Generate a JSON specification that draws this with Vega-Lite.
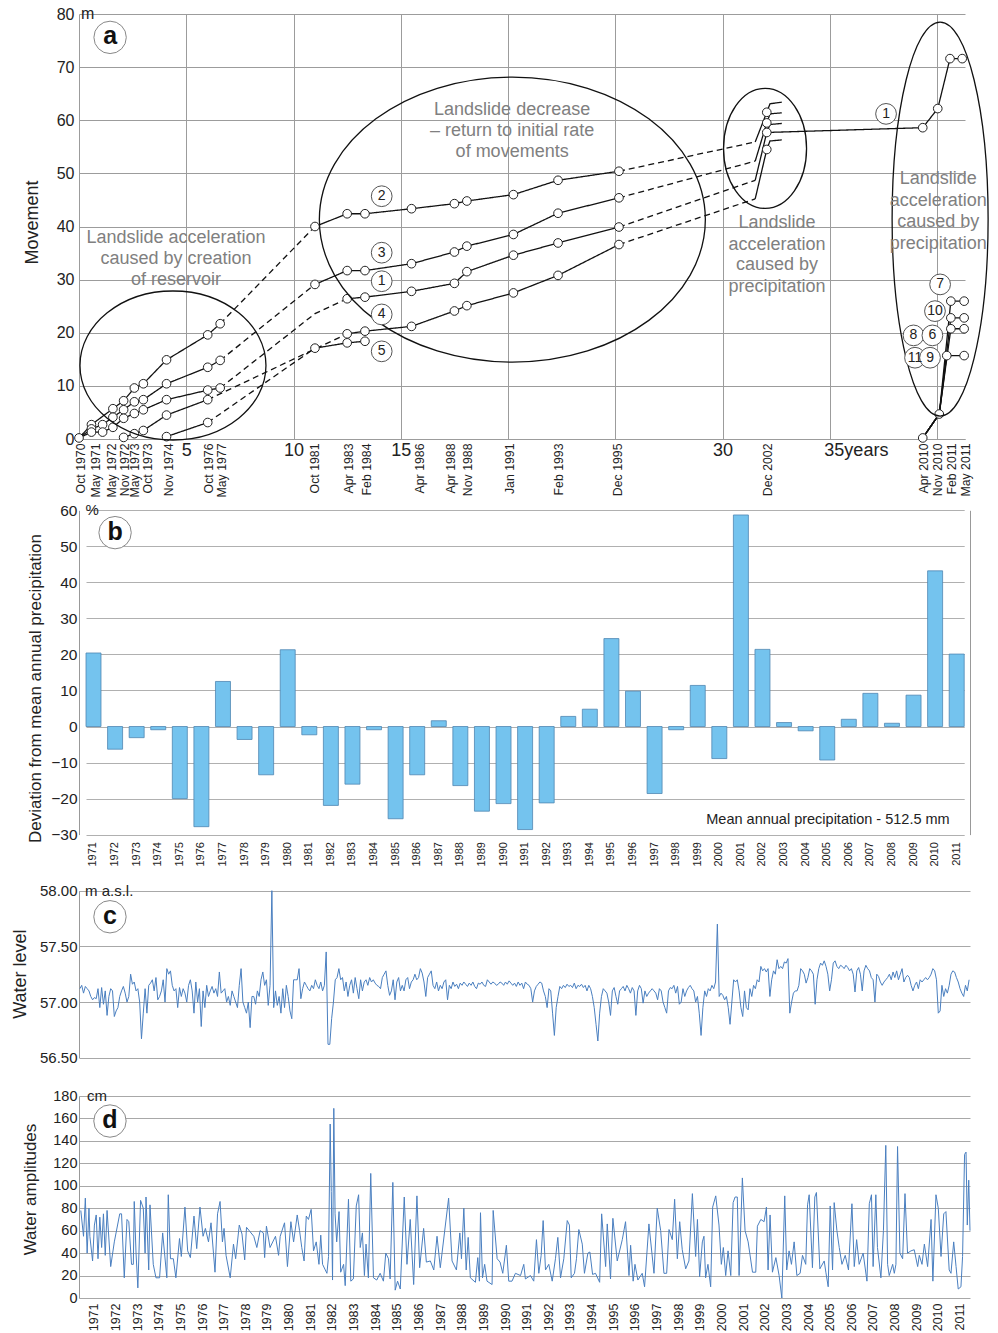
{
"$schema":"https://vega.github.io/schema/vega-lite/v6.json",
"padding":{"left":11,"top":6,"right":5,"bottom":2},
"bounds":"flush",
"spacing":38,
"config":{"font":"Liberation Sans","view":{"stroke":null},"axis":{"labelColor":"#222","titleColor":"#222","titleFontWeight":"normal","domainColor":"#999","gridColor":"#a6a6a6","ticks":false,"tickSize":0,"labelOverlap":false}},
"datasets":{
"lines":[
{"s":"A0","k":"solid","x":0,"y":0.2},{"s":"A0","k":"solid","x":0.58,"y":2.7},{"s":"A0","k":"solid","x":1.58,"y":5.7},{"s":"A0","k":"solid","x":2.08,"y":7.2},{"s":"A0","k":"solid","x":2.58,"y":9.6},{"s":"A0","k":"solid","x":3.0,"y":10.4},{"s":"A0","k":"solid","x":4.08,"y":14.9},{"s":"A0","k":"solid","x":6.0,"y":19.6},{"s":"A0","k":"solid","x":6.58,"y":21.7},
{"s":"A1","k":"dash","x":6.58,"y":21.7},{"s":"A1","k":"dash","x":11,"y":40.0},
{"s":"A2","k":"solid","x":11,"y":40.0},{"s":"A2","k":"solid","x":12.5,"y":42.4},{"s":"A2","k":"solid","x":13.33,"y":42.4},{"s":"A2","k":"solid","x":15.5,"y":43.35},{"s":"A2","k":"solid","x":17.5,"y":44.3},{"s":"A2","k":"solid","x":18.08,"y":44.8},{"s":"A2","k":"solid","x":20.25,"y":46.0},{"s":"A2","k":"solid","x":22.33,"y":48.7},{"s":"A2","k":"solid","x":25.17,"y":50.4},
{"s":"A3","k":"dash","x":25.17,"y":50.4},{"s":"A3","k":"dash","x":31.52,"y":55.9},
{"s":"A4","k":"solid","x":31.52,"y":55.9},{"s":"A4","k":"solid","x":32.06,"y":61.5},{"s":"A4","k":"solid","x":32.21,"y":63.1},{"s":"A4","k":"solid","x":32.76,"y":63.4},
{"s":"B0","k":"solid","x":0,"y":0.2},{"s":"B0","k":"solid","x":0.58,"y":1.9},{"s":"B0","k":"solid","x":1.1,"y":2.7},{"s":"B0","k":"solid","x":1.58,"y":4.1},{"s":"B0","k":"solid","x":2.08,"y":5.5},{"s":"B0","k":"solid","x":2.58,"y":7.0},{"s":"B0","k":"solid","x":3.0,"y":7.4},{"s":"B0","k":"solid","x":4.08,"y":10.4},{"s":"B0","k":"solid","x":6.0,"y":13.5},{"s":"B0","k":"solid","x":6.58,"y":14.8},
{"s":"B1","k":"dash","x":6.58,"y":14.8},{"s":"B1","k":"dash","x":11,"y":29.1},
{"s":"B2","k":"solid","x":11,"y":29.1},{"s":"B2","k":"solid","x":12.5,"y":31.7},{"s":"B2","k":"solid","x":13.33,"y":31.7},{"s":"B2","k":"solid","x":15.5,"y":33.0},{"s":"B2","k":"solid","x":17.5,"y":35.2},{"s":"B2","k":"solid","x":18.08,"y":36.3},{"s":"B2","k":"solid","x":20.25,"y":38.5},{"s":"B2","k":"solid","x":22.33,"y":42.5},{"s":"B2","k":"solid","x":25.17,"y":45.4},
{"s":"B3","k":"dash","x":25.17,"y":45.4},{"s":"B3","k":"dash","x":31.52,"y":52.3},
{"s":"B4","k":"solid","x":31.52,"y":52.3},{"s":"B4","k":"solid","x":32.06,"y":59.5},{"s":"B4","k":"solid","x":32.21,"y":61.2},{"s":"B4","k":"solid","x":32.76,"y":61.4},
{"s":"C0","k":"solid","x":0,"y":0.2},{"s":"C0","k":"solid","x":0.58,"y":1.3},{"s":"C0","k":"solid","x":1.1,"y":1.3},{"s":"C0","k":"solid","x":1.58,"y":2.2},{"s":"C0","k":"solid","x":2.08,"y":3.9},{"s":"C0","k":"solid","x":2.58,"y":4.8},{"s":"C0","k":"solid","x":3.0,"y":5.5},{"s":"C0","k":"solid","x":4.08,"y":7.4},{"s":"C0","k":"solid","x":6.0,"y":9.2},{"s":"C0","k":"solid","x":6.58,"y":9.6},
{"s":"C1","k":"dash","x":6.58,"y":9.6},{"s":"C1","k":"dash","x":11,"y":23.6},{"s":"C1","k":"dash","x":12.5,"y":26.4},
{"s":"C2","k":"solid","x":12.5,"y":26.4},{"s":"C2","k":"solid","x":13.33,"y":26.7},{"s":"C2","k":"solid","x":15.5,"y":27.8},{"s":"C2","k":"solid","x":17.5,"y":29.3},{"s":"C2","k":"solid","x":18.08,"y":31.5},{"s":"C2","k":"solid","x":20.25,"y":34.6},{"s":"C2","k":"solid","x":22.33,"y":36.9},{"s":"C2","k":"solid","x":25.17,"y":39.9},
{"s":"C3","k":"dash","x":25.17,"y":39.9},{"s":"C3","k":"dash","x":31.52,"y":48.7},
{"s":"C4","k":"solid","x":31.52,"y":48.7},{"s":"C4","k":"solid","x":32.06,"y":57.7},{"s":"C4","k":"solid","x":32.21,"y":59.2},{"s":"C4","k":"solid","x":32.76,"y":59.4},
{"s":"C5","k":"solid","x":32.06,"y":57.7},{"s":"C5","k":"solid","x":39.33,"y":58.6},{"s":"C5","k":"solid","x":40.03,"y":62.2},{"s":"C5","k":"solid","x":40.6,"y":71.6},{"s":"C5","k":"solid","x":41.17,"y":71.6},
{"s":"D0","k":"solid","x":2.08,"y":0.3},{"s":"D0","k":"solid","x":2.58,"y":1.0},{"s":"D0","k":"solid","x":3.0,"y":1.6},{"s":"D0","k":"solid","x":4.08,"y":4.5},{"s":"D0","k":"solid","x":6.0,"y":7.4},
{"s":"D1","k":"dash","x":6.0,"y":7.4},{"s":"D1","k":"dash","x":12.5,"y":19.8},
{"s":"D2","k":"solid","x":12.5,"y":19.8},{"s":"D2","k":"solid","x":13.33,"y":20.3},{"s":"D2","k":"solid","x":15.5,"y":21.2},{"s":"D2","k":"solid","x":17.5,"y":24.1},{"s":"D2","k":"solid","x":18.08,"y":25.1},{"s":"D2","k":"solid","x":20.25,"y":27.5},{"s":"D2","k":"solid","x":22.33,"y":30.8},{"s":"D2","k":"solid","x":25.17,"y":36.6},
{"s":"D3","k":"dash","x":25.17,"y":36.6},{"s":"D3","k":"dash","x":31.52,"y":45.2},
{"s":"D4","k":"solid","x":31.52,"y":45.2},{"s":"D4","k":"solid","x":32.06,"y":54.5},{"s":"D4","k":"solid","x":32.21,"y":56.1},{"s":"D4","k":"solid","x":32.76,"y":56.3},
{"s":"E0","k":"solid","x":4.08,"y":0.45},{"s":"E0","k":"solid","x":6.0,"y":3.1},
{"s":"E1","k":"dash","x":6.0,"y":3.1},{"s":"E1","k":"dash","x":11,"y":17.1},
{"s":"E2","k":"solid","x":11,"y":17.1},{"s":"E2","k":"solid","x":12.5,"y":18.1},{"s":"E2","k":"solid","x":13.33,"y":18.4},
{"s":"R1","k":"solid","x":39.33,"y":0.2},{"s":"R1","k":"solid","x":40.1,"y":4.7},{"s":"R1","k":"solid","x":40.64,"y":25.95},{"s":"R1","k":"solid","x":41.26,"y":25.95},
{"s":"R2","k":"solid","x":39.33,"y":0.2},{"s":"R2","k":"solid","x":40.1,"y":4.7},{"s":"R2","k":"solid","x":40.64,"y":22.8},{"s":"R2","k":"solid","x":41.26,"y":22.8},
{"s":"R3","k":"solid","x":39.33,"y":0.2},{"s":"R3","k":"solid","x":40.1,"y":4.7},{"s":"R3","k":"solid","x":40.64,"y":20.75},{"s":"R3","k":"solid","x":41.26,"y":20.75},
{"s":"R4","k":"solid","x":39.33,"y":0.2},{"s":"R4","k":"solid","x":40.1,"y":4.7},{"s":"R4","k":"solid","x":40.45,"y":15.7},{"s":"R4","k":"solid","x":41.26,"y":15.7}
],
"pts":[
{"x":0,"y":0.2},{"x":0.58,"y":2.7},{"x":1.58,"y":5.7},{"x":2.08,"y":7.2},{"x":2.58,"y":9.6},{"x":3.0,"y":10.4},{"x":4.08,"y":14.9},{"x":6.0,"y":19.6},{"x":6.58,"y":21.7},
{"x":0.58,"y":1.9},{"x":1.1,"y":2.7},{"x":1.58,"y":4.1},{"x":2.08,"y":5.5},{"x":2.58,"y":7.0},{"x":3.0,"y":7.4},{"x":4.08,"y":10.4},{"x":6.0,"y":13.5},{"x":6.58,"y":14.8},
{"x":0.58,"y":1.3},{"x":1.1,"y":1.3},{"x":1.58,"y":2.2},{"x":2.08,"y":3.9},{"x":2.58,"y":4.8},{"x":3.0,"y":5.5},{"x":4.08,"y":7.4},{"x":6.0,"y":9.2},{"x":6.58,"y":9.6},
{"x":2.08,"y":0.3},{"x":2.58,"y":1.0},{"x":3.0,"y":1.6},{"x":4.08,"y":4.5},{"x":6.0,"y":7.4},
{"x":4.08,"y":0.45},{"x":6.0,"y":3.1},
{"x":11,"y":40.0},{"x":11,"y":29.1},{"x":11,"y":17.1},
{"x":12.5,"y":42.4},{"x":13.33,"y":42.4},{"x":15.5,"y":43.35},{"x":17.5,"y":44.3},{"x":18.08,"y":44.8},{"x":20.25,"y":46.0},{"x":22.33,"y":48.7},{"x":25.17,"y":50.4},
{"x":12.5,"y":31.7},{"x":13.33,"y":31.7},{"x":15.5,"y":33.0},{"x":17.5,"y":35.2},{"x":18.08,"y":36.3},{"x":20.25,"y":38.5},{"x":22.33,"y":42.5},{"x":25.17,"y":45.4},
{"x":12.5,"y":26.4},{"x":13.33,"y":26.7},{"x":15.5,"y":27.8},{"x":17.5,"y":29.3},{"x":18.08,"y":31.5},{"x":20.25,"y":34.6},{"x":22.33,"y":36.9},{"x":25.17,"y":39.9},
{"x":12.5,"y":19.8},{"x":13.33,"y":20.3},{"x":15.5,"y":21.2},{"x":17.5,"y":24.1},{"x":18.08,"y":25.1},{"x":20.25,"y":27.5},{"x":22.33,"y":30.8},{"x":25.17,"y":36.6},
{"x":12.5,"y":18.1},{"x":13.33,"y":18.4},
{"x":32.06,"y":61.5},{"x":32.06,"y":59.5},{"x":32.06,"y":57.7},{"x":32.06,"y":54.5},
{"x":39.33,"y":58.6},{"x":40.03,"y":62.2},{"x":40.6,"y":71.6},{"x":41.17,"y":71.6},
{"x":39.33,"y":0.2},{"x":40.1,"y":4.7},{"x":40.45,"y":15.7},{"x":40.64,"y":20.75},{"x":40.64,"y":22.8},{"x":40.64,"y":25.95},{"x":41.26,"y":15.7},{"x":41.26,"y":20.75},{"x":41.26,"y":22.8},{"x":41.26,"y":25.95}
],
"ell":[{"e":"e1","x":4.38,"y":13.84},{"e":"e2","x":20.2,"y":41.3},{"e":"e3","x":31.98,"y":54.7},{"e":"e4","x":40.14,"y":41.4}],
"notes":[
{"t":"Landslide acceleration","x":4.52,"y":37.9},{"t":"caused by creation","x":4.52,"y":33.8},{"t":"of reservoir","x":4.52,"y":29.85},
{"t":"Landslide decrease","x":20.19,"y":61.9},{"t":"– return to initial rate","x":20.19,"y":57.9},{"t":"of movements","x":20.19,"y":53.95},
{"t":"Landslide","x":32.54,"y":40.7},{"t":"acceleration","x":32.54,"y":36.6},{"t":"caused by","x":32.54,"y":32.7},{"t":"precipitation","x":32.54,"y":28.7},
{"t":"Landslide","x":40.05,"y":48.9},{"t":"acceleration","x":40.05,"y":44.8},{"t":"caused by","x":40.05,"y":40.8},{"t":"precipitation","x":40.05,"y":36.8}
],
"nums":[
{"n":"2","x":14.11,"y":45.7},{"n":"3","x":14.11,"y":35.07},{"n":"1","x":14.11,"y":29.7},{"n":"4","x":14.11,"y":23.45},{"n":"5","x":14.11,"y":16.5},
{"n":"1","x":37.62,"y":61.2},{"n":"7","x":40.14,"y":29.1},{"n":"10","x":39.9,"y":24.07},{"n":"8","x":38.9,"y":19.5},{"n":"6","x":39.78,"y":19.5},{"n":"11","x":38.97,"y":15.3},{"n":"9","x":39.67,"y":15.3}
],
"precip":[
{"year":"1971","v":20.4},{"year":"1972","v":-6.3},{"year":"1973","v":-3.1},{"year":"1974","v":-0.9},{"year":"1975","v":-20.0},{"year":"1976","v":-27.8},{"year":"1977","v":12.5},{"year":"1978","v":-3.6},{"year":"1979","v":-13.4},{"year":"1980","v":21.3},{"year":"1981","v":-2.3},{"year":"1982","v":-21.9},{"year":"1983","v":-16.0},{"year":"1984","v":-0.9},{"year":"1985","v":-25.6},{"year":"1986","v":-13.4},{"year":"1987","v":1.6},{"year":"1988","v":-16.4},{"year":"1989","v":-23.5},{"year":"1990","v":-21.4},{"year":"1991","v":-28.6},{"year":"1992","v":-21.2},{"year":"1993","v":2.8},{"year":"1994","v":4.8},{"year":"1995","v":24.4},{"year":"1996","v":9.8},{"year":"1997","v":-18.6},{"year":"1998","v":-0.9},{"year":"1999","v":11.4},{"year":"2000","v":-8.9},{"year":"2001","v":58.7},{"year":"2002","v":21.4},{"year":"2003","v":1.1},{"year":"2004","v":-1.2},{"year":"2005","v":-9.3},{"year":"2006","v":2.0},{"year":"2007","v":9.2},{"year":"2008","v":0.9},{"year":"2009","v":8.7},{"year":"2010","v":43.2},{"year":"2011","v":20.1}
],
"wl":[
{"m":0,"v":57.12},{"m":1,"v":57.15},{"m":2,"v":57.08},{"m":3,"v":57.14},{"m":4,"v":57.12},{"m":5,"v":57.1},{"m":6,"v":57.05},{"m":7,"v":57.02},{"m":8,"v":57.04},{"m":9,"v":57.03},{"m":10,"v":57.12},{"m":11,"v":56.95},
{"m":12,"v":57.13},{"m":13,"v":56.98},{"m":14,"v":57.1},{"m":15,"v":56.88},{"m":16,"v":57.05},{"m":17,"v":57.12},{"m":18,"v":57.1},{"m":19,"v":56.87},{"m":20,"v":56.92},{"m":21,"v":56.95},{"m":22,"v":57.05},{"m":23,"v":57.1},
{"m":24,"v":57.14},{"m":25,"v":57.08},{"m":26,"v":57.0},{"m":27,"v":57.05},{"m":28,"v":57.25},{"m":29,"v":57.16},{"m":30,"v":57.18},{"m":31,"v":57.1},{"m":32,"v":57.12},{"m":33,"v":57.0},{"m":34,"v":56.67},{"m":35,"v":56.9},
{"m":36,"v":57.12},{"m":37,"v":56.9},{"m":38,"v":57.15},{"m":39,"v":57.17},{"m":40,"v":57.2},{"m":41,"v":57.1},{"m":42,"v":57.22},{"m":43,"v":57.02},{"m":44,"v":57.05},{"m":45,"v":57.1},{"m":46,"v":57.2},{"m":47,"v":57.0},
{"m":48,"v":57.3},{"m":49,"v":57.25},{"m":50,"v":57.28},{"m":51,"v":57.15},{"m":52,"v":57.1},{"m":53,"v":57.12},{"m":54,"v":56.95},{"m":55,"v":57.13},{"m":56,"v":57.05},{"m":57,"v":57.12},{"m":58,"v":57.08},{"m":59,"v":57.0},
{"m":60,"v":57.15},{"m":61,"v":57.2},{"m":62,"v":57.1},{"m":63,"v":56.9},{"m":64,"v":57.18},{"m":65,"v":57.0},{"m":66,"v":57.12},{"m":67,"v":56.78},{"m":68,"v":57.1},{"m":69,"v":56.95},{"m":70,"v":57.15},{"m":71,"v":57.05},
{"m":72,"v":57.1},{"m":73,"v":57.14},{"m":74,"v":57.08},{"m":75,"v":57.12},{"m":76,"v":57.05},{"m":77,"v":57.27},{"m":78,"v":57.08},{"m":79,"v":57.1},{"m":80,"v":57.12},{"m":81,"v":57.0},{"m":82,"v":57.05},{"m":83,"v":56.97},
{"m":84,"v":57.1},{"m":85,"v":57.05},{"m":86,"v":57.0},{"m":87,"v":56.95},{"m":88,"v":57.15},{"m":89,"v":57.3},{"m":90,"v":57.0},{"m":91,"v":56.95},{"m":92,"v":56.9},{"m":93,"v":57.0},{"m":94,"v":56.77},{"m":95,"v":57.05},
{"m":96,"v":57.05},{"m":97,"v":56.98},{"m":98,"v":57.1},{"m":99,"v":57.05},{"m":100,"v":57.2},{"m":101,"v":57.27},{"m":102,"v":57.15},{"m":103,"v":57.2},{"m":104,"v":56.97},{"m":105,"v":57.15},{"m":106,"v":58.0},{"m":107,"v":56.95},
{"m":108,"v":57.1},{"m":109,"v":56.97},{"m":110,"v":57.05},{"m":111,"v":56.9},{"m":112,"v":57.12},{"m":113,"v":56.95},{"m":114,"v":57.15},{"m":115,"v":57.05},{"m":116,"v":56.92},{"m":117,"v":56.85},{"m":118,"v":57.2},{"m":119,"v":57.2},
{"m":120,"v":57.2},{"m":121,"v":57.3},{"m":122,"v":57.03},{"m":123,"v":57.12},{"m":124,"v":57.18},{"m":125,"v":57.15},{"m":126,"v":57.12},{"m":127,"v":57.1},{"m":128,"v":57.15},{"m":129,"v":57.12},{"m":130,"v":57.2},{"m":131,"v":57.15},
{"m":132,"v":57.12},{"m":133,"v":57.18},{"m":134,"v":57.1},{"m":135,"v":57.15},{"m":136,"v":57.45},{"m":137,"v":56.62},{"m":138,"v":56.62},{"m":139,"v":56.85},{"m":140,"v":57.0},{"m":141,"v":57.2},{"m":142,"v":57.22},{"m":143,"v":57.3},
{"m":144,"v":57.2},{"m":145,"v":57.22},{"m":146,"v":57.1},{"m":147,"v":57.18},{"m":148,"v":57.05},{"m":149,"v":57.15},{"m":150,"v":57.2},{"m":151,"v":57.08},{"m":152,"v":57.22},{"m":153,"v":57.12},{"m":154,"v":57.03},{"m":155,"v":57.2},
{"m":156,"v":57.1},{"m":157,"v":57.18},{"m":158,"v":57.2},{"m":159,"v":57.15},{"m":160,"v":57.22},{"m":161,"v":57.18},{"m":162,"v":57.2},{"m":163,"v":57.17},{"m":164,"v":57.15},{"m":165,"v":57.14},{"m":166,"v":57.12},{"m":167,"v":57.22},
{"m":168,"v":57.25},{"m":169,"v":57.28},{"m":170,"v":57.15},{"m":171,"v":57.06},{"m":172,"v":57.1},{"m":173,"v":57.2},{"m":174,"v":57.02},{"m":175,"v":57.18},{"m":176,"v":57.22},{"m":177,"v":57.1},{"m":178,"v":57.15},{"m":179,"v":57.1},
{"m":180,"v":57.2},{"m":181,"v":57.22},{"m":182,"v":57.12},{"m":183,"v":57.18},{"m":184,"v":57.2},{"m":185,"v":57.25},{"m":186,"v":57.2},{"m":187,"v":57.22},{"m":188,"v":57.3},{"m":189,"v":57.26},{"m":190,"v":57.18},{"m":191,"v":57.05},
{"m":192,"v":57.22},{"m":193,"v":57.25},{"m":194,"v":57.28},{"m":195,"v":57.15},{"m":196,"v":57.12},{"m":197,"v":57.18},{"m":198,"v":57.1},{"m":199,"v":57.15},{"m":200,"v":57.12},{"m":201,"v":57.18},{"m":202,"v":57.2},{"m":203,"v":57.02},
{"m":204,"v":57.15},{"m":205,"v":57.12},{"m":206,"v":57.18},{"m":207,"v":57.14},{"m":208,"v":57.16},{"m":209,"v":57.12},{"m":210,"v":57.17},{"m":211,"v":57.15},{"m":212,"v":57.18},{"m":213,"v":57.16},{"m":214,"v":57.14},{"m":215,"v":57.17},
{"m":216,"v":57.15},{"m":217,"v":57.18},{"m":218,"v":57.14},{"m":219,"v":57.12},{"m":220,"v":57.17},{"m":221,"v":57.16},{"m":222,"v":57.18},{"m":223,"v":57.15},{"m":224,"v":57.14},{"m":225,"v":57.2},{"m":226,"v":57.18},{"m":227,"v":57.16},
{"m":228,"v":57.18},{"m":229,"v":57.17},{"m":230,"v":57.15},{"m":231,"v":57.16},{"m":232,"v":57.18},{"m":233,"v":57.17},{"m":234,"v":57.15},{"m":235,"v":57.18},{"m":236,"v":57.16},{"m":237,"v":57.19},{"m":238,"v":57.17},{"m":239,"v":57.15},
{"m":240,"v":57.17},{"m":241,"v":57.14},{"m":242,"v":57.18},{"m":243,"v":57.15},{"m":244,"v":57.17},{"m":245,"v":57.12},{"m":246,"v":57.18},{"m":247,"v":57.16},{"m":248,"v":57.15},{"m":249,"v":57.12},{"m":250,"v":57.0},{"m":251,"v":57.1},
{"m":252,"v":57.14},{"m":253,"v":57.16},{"m":254,"v":57.18},{"m":255,"v":57.17},{"m":256,"v":57.1},{"m":257,"v":57.05},{"m":258,"v":56.95},{"m":259,"v":57.12},{"m":260,"v":57.1},{"m":261,"v":56.9},{"m":262,"v":56.7},{"m":263,"v":56.95},
{"m":264,"v":57.05},{"m":265,"v":57.14},{"m":266,"v":57.12},{"m":267,"v":57.15},{"m":268,"v":57.13},{"m":269,"v":57.16},{"m":270,"v":57.14},{"m":271,"v":57.15},{"m":272,"v":57.13},{"m":273,"v":57.17},{"m":274,"v":57.12},{"m":275,"v":57.15},
{"m":276,"v":57.14},{"m":277,"v":57.16},{"m":278,"v":57.13},{"m":279,"v":57.15},{"m":280,"v":57.1},{"m":281,"v":57.15},{"m":282,"v":57.12},{"m":283,"v":57.05},{"m":284,"v":56.95},{"m":285,"v":56.8},{"m":286,"v":56.65},{"m":287,"v":56.9},
{"m":288,"v":57.05},{"m":289,"v":57.12},{"m":290,"v":57.1},{"m":291,"v":57.08},{"m":292,"v":57.0},{"m":293,"v":56.88},{"m":294,"v":57.1},{"m":295,"v":57.13},{"m":296,"v":57.05},{"m":297,"v":56.98},{"m":298,"v":57.1},{"m":299,"v":57.12},
{"m":300,"v":57.14},{"m":301,"v":57.1},{"m":302,"v":57.15},{"m":303,"v":57.12},{"m":304,"v":57.08},{"m":305,"v":57.13},{"m":306,"v":57.1},{"m":307,"v":56.88},{"m":308,"v":57.1},{"m":309,"v":57.15},{"m":310,"v":57.12},{"m":311,"v":56.99},
{"m":312,"v":57.1},{"m":313,"v":57.05},{"m":314,"v":57.08},{"m":315,"v":57.1},{"m":316,"v":57.12},{"m":317,"v":57.1},{"m":318,"v":57.08},{"m":319,"v":57.02},{"m":320,"v":57.12},{"m":321,"v":57.1},{"m":322,"v":57.0},{"m":323,"v":56.95},
{"m":324,"v":56.9},{"m":325,"v":57.1},{"m":326,"v":57.13},{"m":327,"v":57.12},{"m":328,"v":57.15},{"m":329,"v":57.08},{"m":330,"v":57.14},{"m":331,"v":56.98},{"m":332,"v":57.0},{"m":333,"v":57.12},{"m":334,"v":57.05},{"m":335,"v":57.1},
{"m":336,"v":57.13},{"m":337,"v":57.15},{"m":338,"v":57.12},{"m":339,"v":57.1},{"m":340,"v":57.0},{"m":341,"v":57.05},{"m":342,"v":56.9},{"m":343,"v":56.7},{"m":344,"v":56.95},{"m":345,"v":57.1},{"m":346,"v":57.05},{"m":347,"v":57.12},
{"m":348,"v":57.1},{"m":349,"v":57.15},{"m":350,"v":57.12},{"m":351,"v":57.18},{"m":352,"v":57.7},{"m":353,"v":57.05},{"m":354,"v":57.08},{"m":355,"v":57.06},{"m":356,"v":57.02},{"m":357,"v":57.05},{"m":358,"v":56.95},{"m":359,"v":56.8},
{"m":360,"v":57.0},{"m":361,"v":57.2},{"m":362,"v":57.18},{"m":363,"v":57.2},{"m":364,"v":57.1},{"m":365,"v":56.95},{"m":366,"v":56.87},{"m":367,"v":57.1},{"m":368,"v":56.95},{"m":369,"v":56.93},{"m":370,"v":57.12},{"m":371,"v":57.05},
{"m":372,"v":57.15},{"m":373,"v":57.12},{"m":374,"v":57.2},{"m":375,"v":57.18},{"m":376,"v":57.32},{"m":377,"v":57.28},{"m":378,"v":57.3},{"m":379,"v":57.27},{"m":380,"v":57.3},{"m":381,"v":57.05},{"m":382,"v":57.2},{"m":383,"v":57.28},
{"m":384,"v":57.25},{"m":385,"v":57.38},{"m":386,"v":57.3},{"m":387,"v":57.32},{"m":388,"v":57.3},{"m":389,"v":57.36},{"m":390,"v":57.35},{"m":391,"v":57.39},{"m":392,"v":56.9},{"m":393,"v":57.0},{"m":394,"v":57.08},{"m":395,"v":57.1},
{"m":396,"v":57.1},{"m":397,"v":57.15},{"m":398,"v":57.3},{"m":399,"v":57.28},{"m":400,"v":57.25},{"m":401,"v":57.17},{"m":402,"v":57.22},{"m":403,"v":57.3},{"m":404,"v":57.28},{"m":405,"v":57.25},{"m":406,"v":56.98},{"m":407,"v":57.2},
{"m":408,"v":57.3},{"m":409,"v":57.35},{"m":410,"v":57.33},{"m":411,"v":57.37},{"m":412,"v":57.32},{"m":413,"v":57.25},{"m":414,"v":57.1},{"m":415,"v":57.2},{"m":416,"v":57.35},{"m":417,"v":57.37},{"m":418,"v":57.32},{"m":419,"v":57.3},
{"m":420,"v":57.33},{"m":421,"v":57.32},{"m":422,"v":57.3},{"m":423,"v":57.33},{"m":424,"v":57.31},{"m":425,"v":57.28},{"m":426,"v":57.3},{"m":427,"v":57.25},{"m":428,"v":57.09},{"m":429,"v":57.28},{"m":430,"v":57.31},{"m":431,"v":57.25},
{"m":432,"v":57.1},{"m":433,"v":57.28},{"m":434,"v":57.33},{"m":435,"v":57.3},{"m":436,"v":57.28},{"m":437,"v":57.22},{"m":438,"v":57.2},{"m":439,"v":57.0},{"m":440,"v":57.25},{"m":441,"v":57.23},{"m":442,"v":57.18},{"m":443,"v":57.15},
{"m":444,"v":57.18},{"m":445,"v":57.2},{"m":446,"v":57.22},{"m":447,"v":57.25},{"m":448,"v":57.2},{"m":449,"v":57.27},{"m":450,"v":57.22},{"m":451,"v":57.28},{"m":452,"v":57.2},{"m":453,"v":57.25},{"m":454,"v":57.3},{"m":455,"v":57.18},
{"m":456,"v":57.22},{"m":457,"v":57.24},{"m":458,"v":57.22},{"m":459,"v":57.15},{"m":460,"v":57.1},{"m":461,"v":57.15},{"m":462,"v":57.18},{"m":463,"v":57.12},{"m":464,"v":57.2},{"m":465,"v":57.18},{"m":466,"v":57.2},{"m":467,"v":57.22},
{"m":468,"v":57.2},{"m":469,"v":57.22},{"m":470,"v":57.25},{"m":471,"v":57.3},{"m":472,"v":57.28},{"m":473,"v":57.2},{"m":474,"v":56.9},{"m":475,"v":56.92},{"m":476,"v":57.15},{"m":477,"v":57.05},{"m":478,"v":57.12},{"m":479,"v":57.08},
{"m":480,"v":57.15},{"m":481,"v":57.25},{"m":482,"v":57.28},{"m":483,"v":57.27},{"m":484,"v":57.22},{"m":485,"v":57.18},{"m":486,"v":57.12},{"m":487,"v":57.08},{"m":488,"v":57.05},{"m":489,"v":57.15},{"m":490,"v":57.1},{"m":491,"v":57.2}
],
"amp":[
{"m":0.5,"v":78},{"m":2,"v":55},{"m":3,"v":89},{"m":4,"v":40},{"m":5,"v":80},{"m":5.5,"v":55},{"m":7,"v":33},{"m":8,"v":65},{"m":9,"v":74},{"m":10,"v":35},{"m":11,"v":72},{"m":12,"v":45},{"m":13,"v":75},{"m":14,"v":38},{"m":15,"v":78},{"m":17,"v":28},{"m":19,"v":50},{"m":22,"v":75},{"m":23,"v":75},{"m":24.5,"v":18},{"m":26,"v":70},{"m":27,"v":68},{"m":28.5,"v":30},{"m":29.5,"v":30},{"m":30,"v":86},{"m":31,"v":40},{"m":32,"v":9},{"m":33.5,"v":87},{"m":35,"v":80},{"m":36,"v":40},{"m":36.5,"v":90},{"m":38,"v":25},{"m":38.7,"v":83},{"m":40.5,"v":30},{"m":42,"v":18},{"m":44,"v":18},{"m":45.7,"v":58},{"m":48,"v":18},{"m":48.8,"v":92},{"m":50,"v":35},{"m":51.6,"v":35},{"m":53,"v":18},{"m":55,"v":53},{"m":56,"v":37},{"m":58,"v":81},{"m":59.5,"v":42},{"m":61,"v":36},{"m":63,"v":73},{"m":64.5,"v":44},{"m":66.3,"v":81},{"m":68,"v":55},{"m":69.3,"v":62},{"m":71,"v":50},{"m":72.4,"v":67},{"m":74.6,"v":23},{"m":76,"v":75},{"m":77.4,"v":86},{"m":78.7,"v":50},{"m":79.6,"v":62},{"m":80.7,"v":38},{"m":83,"v":18},{"m":84.8,"v":48},{"m":86,"v":35},{"m":88,"v":65},{"m":89.5,"v":57},{"m":91,"v":34},{"m":92,"v":63},{"m":96,"v":55},{"m":97.7,"v":45},{"m":99.5,"v":60},{"m":101.3,"v":58},{"m":102,"v":36},{"m":103,"v":64},{"m":105,"v":45},{"m":108,"v":55},{"m":109.7,"v":38},{"m":110.6,"v":55},{"m":113,"v":67},{"m":114.6,"v":28},{"m":116.5,"v":68},{"m":118,"v":50},{"m":120,"v":74},{"m":121.3,"v":60},{"m":122.5,"v":45},{"m":123.8,"v":33},{"m":125,"v":73},{"m":126.2,"v":70},{"m":127.7,"v":79},{"m":129,"v":42},{"m":130.5,"v":50},{"m":132,"v":30},{"m":133,"v":56},{"m":134,"v":30},{"m":135.5,"v":25},{"m":136.4,"v":22},{"m":137.3,"v":37},{"m":138.2,"v":155},{"m":138.8,"v":95},{"m":139.5,"v":16},{"m":140.2,"v":169},{"m":140.9,"v":75},{"m":141.8,"v":50},{"m":143.1,"v":77},{"m":144,"v":23},{"m":145.6,"v":30},{"m":146.5,"v":11},{"m":148.3,"v":88},{"m":149.6,"v":15},{"m":151,"v":17},{"m":152.6,"v":82},{"m":153.9,"v":92},{"m":154.8,"v":45},{"m":156,"v":58},{"m":157.1,"v":20},{"m":158,"v":48},{"m":159.3,"v":18},{"m":160.6,"v":111},{"m":162.1,"v":18},{"m":163.9,"v":16},{"m":165.8,"v":22},{"m":167.6,"v":15},{"m":168.9,"v":40},{"m":170.4,"v":35},{"m":171.3,"v":17},{"m":172.8,"v":103},{"m":174.1,"v":7},{"m":175.4,"v":15},{"m":176.9,"v":8},{"m":179.1,"v":90},{"m":180.6,"v":30},{"m":182.4,"v":70},{"m":184.3,"v":12},{"m":186.1,"v":91},{"m":187.6,"v":27},{"m":189.8,"v":62},{"m":191.3,"v":32},{"m":193.5,"v":33},{"m":195.4,"v":25},{"m":197.2,"v":55},{"m":199,"v":27},{"m":203.6,"v":89},{"m":205.5,"v":33},{"m":207.9,"v":25},{"m":209.8,"v":58},{"m":210.7,"v":35},{"m":212,"v":80},{"m":213.3,"v":25},{"m":214.4,"v":54},{"m":215.6,"v":18},{"m":218.4,"v":14},{"m":219.7,"v":36},{"m":220.6,"v":15},{"m":221.2,"v":76},{"m":222.3,"v":18},{"m":223.5,"v":30},{"m":224.8,"v":15},{"m":227.6,"v":12},{"m":228.2,"v":78},{"m":230.4,"v":35},{"m":232,"v":32},
{"m":233.5,"v":22},{"m":235.5,"v":47},{"m":236.8,"v":15},{"m":238.6,"v":15},{"m":240.5,"v":22},{"m":243.3,"v":20},{"m":245.1,"v":30},{"m":246,"v":17},{"m":248.8,"v":20},{"m":250.6,"v":15},{"m":252.1,"v":52},{"m":253.4,"v":22},{"m":254.7,"v":38},{"m":255.8,"v":69},{"m":257.1,"v":25},{"m":258.9,"v":30},{"m":260.8,"v":15},{"m":262.6,"v":35},{"m":263.9,"v":54},{"m":265.4,"v":18},{"m":267.2,"v":35},{"m":269.1,"v":69},{"m":270.3,"v":65},{"m":271.3,"v":18},{"m":273.1,"v":22},{"m":274.2,"v":35},{"m":275.5,"v":61},{"m":277.4,"v":48},{"m":278.6,"v":22},{"m":280.5,"v":40},{"m":281.6,"v":41},{"m":283.1,"v":21},{"m":284.7,"v":22},{"m":287,"v":14},{"m":288.1,"v":75},{"m":290.3,"v":28},{"m":291.2,"v":66},{"m":293,"v":17},{"m":294.3,"v":71},{"m":296.7,"v":33},{"m":299.5,"v":52},{"m":301.3,"v":68},{"m":303.2,"v":20},{"m":304.1,"v":47},{"m":305.5,"v":15},{"m":306.5,"v":30},{"m":308.1,"v":16},{"m":310.5,"v":22},{"m":311.8,"v":10},{"m":314.2,"v":66},{"m":317,"v":22},{"m":318.8,"v":80},{"m":320.7,"v":60},{"m":322.5,"v":22},{"m":324,"v":22},{"m":325.3,"v":61},{"m":327.1,"v":52},{"m":328.4,"v":88},{"m":329.9,"v":35},{"m":331.2,"v":68},{"m":332.6,"v":43},{"m":334.5,"v":26},{"m":336.3,"v":33},{"m":338.2,"v":93},{"m":340,"v":37},{"m":341,"v":70},{"m":342.2,"v":19},{"m":343.7,"v":50},{"m":344.6,"v":55},{"m":345.5,"v":18},{"m":346.8,"v":30},{"m":348.3,"v":10},{"m":349.4,"v":81},{"m":351.1,"v":91},{"m":352.9,"v":65},{"m":354.2,"v":30},{"m":355.3,"v":45},{"m":356.6,"v":20},{"m":357.9,"v":42},{"m":359.4,"v":20},{"m":360.7,"v":85},{"m":361.8,"v":90},{"m":363,"v":90},{"m":364,"v":20},{"m":365.8,"v":107},{"m":367.3,"v":60},{"m":369,"v":50},{"m":371.4,"v":23},{"m":373.2,"v":23},{"m":374.1,"v":64},{"m":376,"v":70},{"m":377.8,"v":68},{"m":379.1,"v":81},{"m":380,"v":25},{"m":381.1,"v":74},{"m":382.4,"v":23},{"m":384.3,"v":36},{"m":386.1,"v":20},{"m":387.6,"v":0},{"m":389.2,"v":91},{"m":390.3,"v":25},{"m":391.6,"v":42},{"m":392.9,"v":30},{"m":394.4,"v":50},{"m":395.9,"v":20},{"m":397.7,"v":22},{"m":399,"v":38},{"m":400.8,"v":30},{"m":401.8,"v":83},{"m":402.7,"v":92},{"m":404.5,"v":27},{"m":405.8,"v":90},{"m":406.7,"v":94},{"m":408.6,"v":26},{"m":411,"v":33},{"m":411.9,"v":23},{"m":413.2,"v":10},{"m":414.3,"v":82},{"m":415.6,"v":25},{"m":416.5,"v":85},{"m":418,"v":60},{"m":419.3,"v":45},{"m":420.8,"v":30},{"m":422.6,"v":38},{"m":424.4,"v":25},{"m":426.3,"v":84},{"m":427.6,"v":28},{"m":428.9,"v":52},{"m":430.3,"v":30},{"m":432.5,"v":40},{"m":434.6,"v":15},{"m":435.9,"v":84},{"m":437.1,"v":92},{"m":438,"v":28},{"m":439.5,"v":92},{"m":440.4,"v":45},{"m":442.3,"v":18},{"m":443.7,"v":60},{"m":445,"v":136},{"m":446,"v":30},{"m":446.9,"v":20},{"m":448.8,"v":30},{"m":449.7,"v":22},{"m":450.6,"v":30},{"m":451.5,"v":135},{"m":452.8,"v":40},{"m":454.3,"v":35},{"m":455.6,"v":93},{"m":457,"v":40},{"m":458.9,"v":42},{"m":460.7,"v":43},{"m":462.6,"v":28},{"m":463.5,"v":38},{"m":465,"v":30},{"m":466.3,"v":48},{"m":468.1,"v":28},{"m":470,"v":70},{"m":471,"v":15},{"m":472.7,"v":92},{"m":474,"v":80},{"m":475.5,"v":37},{"m":477,"v":75},{"m":478.2,"v":77},{"m":480,"v":25},{"m":481,"v":22},{"m":482.5,"v":50},{"m":483.8,"v":28},{"m":485,"v":8},{"m":486.5,"v":10},{"m":487.4,"v":37},{"m":488.5,"v":128},{"m":489.3,"v":130},{"m":490,"v":65},{"m":490.8,"v":105},{"m":491.5,"v":60}
]
},
"vconcat":[
{
"width":886,"height":425,
"resolve":{"axis":{"x":"independent"}},
"layer":[
{"data":{"name":"lines"},"mark":{"type":"line","color":"#111","strokeWidth":1.3},
"encoding":{
"x":{"field":"x","type":"quantitative","scale":{"domain":[0,41.3],"nice":false,"zero":false},
"axis":{"orient":"bottom","values":[5,10,15,20,25,30,35,40],"grid":true,"gridColor":"#9c9c9c","domain":true,"domainColor":"#9c9c9c","labelFontSize":18,"labelPadding":2,"title":null,
"labelExpr":"datum.value==35?'35years':((datum.value==5||datum.value==10||datum.value==15||datum.value==30)?datum.label:'')",
"labelAlign":{"condition":{"test":"datum.value==35","value":"left"},"value":"center"},
"labelOffset":{"condition":{"test":"datum.value==35","value":-6},"value":0}}},
"y":{"field":"y","type":"quantitative","scale":{"domain":[0,80],"nice":false},
"axis":{"values":[0,10,20,30,40,50,60,70,80],"grid":true,"gridColor":"#9c9c9c","domainColor":"#9c9c9c","labelFontSize":16,"labelPadding":5,"title":"Movement","titleFontSize":18,"titleX":-47,"titleY":208,"titleBaseline":"middle"}},
"detail":{"field":"s"},
"strokeDash":{"field":"k","type":"nominal","scale":{"domain":["solid","dash"],"range":[[1,0],[6,4]]},"legend":null}}},
{"data":{"name":"pts"},"mark":{"type":"point","shape":"circle","size":75,"filled":true,"fill":"white","stroke":"#222","strokeWidth":1,"opacity":1},
"encoding":{
"x":{"field":"x","type":"quantitative","axis":{"orient":"bottom","grid":false,"domain":false,"title":null,"labelAngle":-90,"labelFontSize":12.3,"labelPadding":4,"labelBound":false,"labelFlush":false,
"values":[0.05,0.78,1.52,2.1,2.61,3.2,4.16,6.03,6.65,11,12.54,13.41,15.87,17.34,18.1,20.07,22.35,25.1,32.1,39.35,40.03,40.68,41.3],
"labelExpr":"datum.value==0.05?'Oct 1970':datum.value==0.78?'May 1971':datum.value==1.52?'May 1972':datum.value==2.1?'Nov 1972':datum.value==2.61?'May 1973':datum.value==3.2?'Oct 1973':datum.value==4.16?'Nov 1974':datum.value==6.03?'Oct 1976':datum.value==6.65?'May 1977':datum.value==11?'Oct 1981':datum.value==12.54?'Apr 1983':datum.value==13.41?'Feb 1984':datum.value==15.87?'Apr 1986':datum.value==17.34?'Apr 1988':datum.value==18.1?'Nov 1988':datum.value==20.07?'Jan 1991':datum.value==22.35?'Feb 1993':datum.value==25.1?'Dec 1995':datum.value==32.1?'Dec 2002':datum.value==39.35?'Apr 2010':datum.value==40.03?'Nov 2010':datum.value==40.68?'Feb 2011':'May 2011'"}},
"y":{"field":"y","type":"quantitative"}}},
{"data":{"name":"ell"},"mark":{"type":"point","filled":false,"color":"#111","strokeWidth":1.3,"size":4,"opacity":1},
"encoding":{"x":{"field":"x","type":"quantitative","axis":null},"y":{"field":"y","type":"quantitative"},
"shape":{"field":"e","type":"nominal","legend":null,"scale":{"domain":["e1","e2","e3","e4"],"range":[
"M93,0C93,41.15,51.36,74.5,0,74.5C-51.36,74.5,-93,41.15,-93,0C-93,-41.15,-51.36,-74.5,0,-74.5C51.36,-74.5,93,-41.15,93,0Z",
"M193,0C193,78.7,106.6,142.5,0,142.5C-106.6,142.5,-193,78.7,-193,0C-193,-78.7,-106.6,-142.5,0,-142.5C106.6,-142.5,193,-78.7,193,0Z",
"M41.5,0C41.5,33.14,22.92,60,0,60C-22.92,60,-41.5,33.14,-41.5,0C-41.5,-33.14,-22.92,-60,0,-60C22.92,-60,41.5,-33.14,41.5,0Z",
"M48,0C48,108.8,26.51,197,0,197C-26.51,197,-48,108.8,-48,0C-48,-108.8,-26.51,-197,0,-197C26.51,-197,48,-108.8,48,0Z"]}}}},
{"data":{"name":"notes"},"mark":{"type":"text","fontSize":18,"color":"#808080","align":"center","baseline":"middle"},
"encoding":{"x":{"field":"x","type":"quantitative","axis":null},"y":{"field":"y","type":"quantitative"},"text":{"field":"t"}}},
{"data":{"name":"nums"},"mark":{"type":"point","shape":"circle","size":430,"filled":true,"fill":"white","stroke":"#555","strokeWidth":1,"opacity":1},
"encoding":{"x":{"field":"x","type":"quantitative","axis":null},"y":{"field":"y","type":"quantitative"}}},
{"data":{"name":"nums"},"mark":{"type":"text","fontSize":14,"color":"#222","align":"center","baseline":"middle"},
"encoding":{"x":{"field":"x","type":"quantitative","axis":null},"y":{"field":"y","type":"quantitative"},"text":{"field":"n"}}},
{"data":{"values":[{"t":"a","x":1.45,"y":75.6}]},"mark":{"type":"point","shape":"circle","size":1050,"filled":true,"fill":"white","stroke":"#888","strokeWidth":1,"opacity":1},
"encoding":{"x":{"field":"x","type":"quantitative","axis":null},"y":{"field":"y","type":"quantitative"}}},
{"data":{"values":[{"t":"a","x":1.45,"y":75.6}]},"mark":{"type":"text","fontSize":25,"fontWeight":"bold","color":"#111","align":"center","baseline":"middle","dy":-1},
"encoding":{"x":{"field":"x","type":"quantitative","axis":null},"y":{"field":"y","type":"quantitative"},"text":{"field":"t"}}},
{"data":{"values":[{"t":"m","x":0,"y":80}]},"mark":{"type":"text","fontSize":16,"color":"#222","align":"left","baseline":"middle","dx":2},
"encoding":{"x":{"field":"x","type":"quantitative","axis":null},"y":{"field":"y","type":"quantitative"},"text":{"field":"t"}}}
]
},
{
"width":891,"height":357.6,
"resolve":{"axis":{"y":"independent"}},
"layer":[
{"data":{"name":"precip"},"mark":{"type":"bar","fill":"#74c3ee","stroke":"#4f86b3","strokeWidth":0.8},
"encoding":{
"x":{"field":"year","type":"ordinal","scale":{"range":[7,885.2],"paddingInner":0.305,"paddingOuter":0},"axis":{"title":null,"labelAngle":-90,"labelFontSize":11,"labelPadding":7,"domain":false,"grid":false}},
"y":{"field":"v","type":"quantitative","scale":{"domain":[-30,60],"nice":false,"range":[357.6,33.3]},"axis":{"values":[-30,-20,-10,0,10,20,30,40,50,60],"grid":true,"gridColor":"#b0b0b0","domainColor":"#999","labelFontSize":15.5,"labelPadding":2,"title":"Deviation from mean annual precipitation","titleFontSize":17,"titleX":-44,"titleY":211,"titleBaseline":"middle"}}}},
{"data":{"name":"precip"},"mark":{"type":"point","opacity":0},
"encoding":{"x":{"field":"year","type":"ordinal"},"y":{"field":"v","type":"quantitative","axis":{"orient":"right","labels":false,"grid":false,"domain":true,"domainColor":"#999","title":null}}}},
{"data":{"values":[{"year":"2011","v":-25.9,"t":"Mean annual precipitation - 512.5 mm"}]},"mark":{"type":"text","fontSize":14.5,"color":"#222","align":"right","baseline":"middle","dx":-7},
"encoding":{"x":{"field":"year","type":"ordinal"},"y":{"field":"v","type":"quantitative","axis":null},"text":{"field":"t"}}},
{"data":{"values":[{"year":"1971","v":60,"t":"%"}]},"mark":{"type":"text","fontSize":15,"color":"#222","align":"left","baseline":"middle","dx":-8},
"encoding":{"x":{"field":"year","type":"ordinal"},"y":{"field":"v","type":"quantitative","axis":null},"text":{"field":"t"}}},
{"data":{"values":[{"year":"1972","v":53.8,"t":"b"}]},"mark":{"type":"point","shape":"circle","size":1050,"filled":true,"fill":"white","stroke":"#888","strokeWidth":1,"opacity":1},
"encoding":{"x":{"field":"year","type":"ordinal"},"y":{"field":"v","type":"quantitative","axis":null}}},
{"data":{"values":[{"year":"1972","v":53.8,"t":"b"}]},"mark":{"type":"text","fontSize":25,"fontWeight":"bold","color":"#111","align":"center","baseline":"middle","dy":-1},
"encoding":{"x":{"field":"year","type":"ordinal"},"y":{"field":"v","type":"quantitative","axis":null},"text":{"field":"t"}}}
]
},
{
"width":891,"height":184.7,
"layer":[
{"data":{"name":"wl"},"mark":{"type":"line","color":"#4a7fc0","strokeWidth":1},
"encoding":{
"x":{"field":"m","type":"quantitative","scale":{"domain":[-0.5,491.5],"nice":false,"zero":false},"axis":null},
"y":{"field":"v","type":"quantitative","scale":{"domain":[56.5,58],"nice":false,"zero":false,"range":[184.7,17.7]},"axis":{"values":[56.5,57,57.5,58],"format":".2f","grid":true,"gridColor":"#a8a8a8","domainColor":"#999","labelFontSize":15,"labelPadding":2,"title":"Water level","titleFontSize":18,"titleX":-59,"titleY":100.7,"titleBaseline":"middle"}}}},
{"data":{"values":[{"m":2.8,"v":58,"t":"m a.s.l."}]},"mark":{"type":"text","fontSize":15,"color":"#222","align":"left","baseline":"middle"},
"encoding":{"x":{"field":"m","type":"quantitative","axis":null},"y":{"field":"v","type":"quantitative"},"text":{"field":"t"}}},
{"data":{"values":[{"m":16.6,"v":57.766,"t":"c"}]},"mark":{"type":"point","shape":"circle","size":1050,"filled":true,"fill":"white","stroke":"#888","strokeWidth":1,"opacity":1},
"encoding":{"x":{"field":"m","type":"quantitative","axis":null},"y":{"field":"v","type":"quantitative"}}},
{"data":{"values":[{"m":16.6,"v":57.766,"t":"c"}]},"mark":{"type":"text","fontSize":25,"fontWeight":"bold","color":"#111","align":"center","baseline":"middle","dy":-1},
"encoding":{"x":{"field":"m","type":"quantitative","axis":null},"y":{"field":"v","type":"quantitative"},"text":{"field":"t"}}}
]
},
{
"width":891,"height":202,
"resolve":{"axis":{"x":"independent","y":"independent"}},
"layer":[
{"data":{"name":"amp"},"mark":{"type":"line","color":"#4a7fc0","strokeWidth":1},
"encoding":{
"x":{"field":"m","type":"quantitative","scale":{"domain":[-0.5,491.5],"nice":false,"zero":false},
"axis":{"orient":"bottom","title":null,"grid":false,"domain":false,"labelAngle":-90,"labelFontSize":12.5,"labelPadding":5,"labelFlush":false,"labelOverlap":false,
"values":[7.7,19.65,31.6,43.55,55.5,67.45,79.4,91.35,103.3,115.25,127.2,139.15,151.1,163.05,175.0,186.95,198.9,210.85,222.8,234.75,246.7,258.65,270.6,282.55,294.5,306.45,318.4,330.35,342.3,354.25,366.2,378.15,390.1,402.05,414.0,425.95,437.9,449.85,461.8,473.75,485.7],
"labelExpr":"'' + (1971 + round((datum.value - 7.7) / 11.95))"}},
"y":{"field":"v","type":"quantitative","scale":{"domain":[0,180],"nice":false},"axis":{"orient":"left","values":[0,20,40,60,80,100,120,140,160,180],"labelOverlap":false,"grid":true,"gridColor":"#a8a8a8","domainColor":"#999","labelFontSize":14.5,"labelPadding":2,"title":"Water amplitudes","titleFontSize":17,"titleX":-49,"titleY":93,"titleBaseline":"middle"}}}},
{"data":{"values":[{"m":3.9,"v":180,"t":"cm"}]},"mark":{"type":"text","fontSize":15,"color":"#222","align":"left","baseline":"middle"},
"encoding":{"x":{"field":"m","type":"quantitative","axis":null},"y":{"field":"v","type":"quantitative","axis":null},"text":{"field":"t"}}},
{"data":{"values":[{"m":16.6,"v":157.7,"t":"d"}]},"mark":{"type":"point","shape":"circle","size":1050,"filled":true,"fill":"white","stroke":"#888","strokeWidth":1,"opacity":1},
"encoding":{"x":{"field":"m","type":"quantitative","axis":null},"y":{"field":"v","type":"quantitative","axis":null}}},
{"data":{"values":[{"m":16.6,"v":157.7,"t":"d"}]},"mark":{"type":"text","fontSize":25,"fontWeight":"bold","color":"#111","align":"center","baseline":"middle","dy":-1},
"encoding":{"x":{"field":"m","type":"quantitative","axis":null},"y":{"field":"v","type":"quantitative","axis":null},"text":{"field":"t"}}}
]
}
]
}
